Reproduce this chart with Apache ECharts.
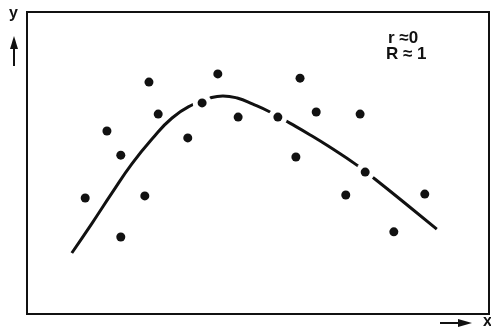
<!DOCTYPE html>
<html>
<head>
<meta charset="utf-8">
<script src="https://cdn.jsdelivr.net/npm/echarts@6/dist/echarts.min.js"></script>
<style>
  html, body { margin: 0; padding: 0; background: #fff; }
  #chart { width: 491px; height: 334px; }
</style>
</head>
<body>
<div id="chart"></div>
<script>
// scatter points (x, y)
const pointsX = [1.26, 1.73, 2.03, 2.03, 2.55, 2.64, 2.84, 3.48, 3.79, 4.13, 4.57, 5.43, 5.82, 5.91, 6.26, 6.90, 7.21, 7.32, 7.94, 8.61];
const pointsY = [3.84, 6.06, 5.26, 2.55, 3.91, 7.68, 6.62, 5.83, 6.99, 7.95, 6.52, 6.52, 5.20, 7.81, 6.69, 3.94, 6.62, 4.70, 2.72, 3.97];
// points lying on the curve (the curve is broken around them)
const onCurve = [8, 11, 17];

// fitted curve
const curveX = [0.97, 1.41, 1.84, 2.27, 2.71, 3.14, 3.57, 3.96, 4.24, 4.55, 4.89, 5.26, 5.69, 6.13, 6.52, 7.14, 7.53, 8.23, 8.87];
const curveY = [2.02, 3.01, 4.01, 4.97, 5.80, 6.49, 6.92, 7.15, 7.22, 7.15, 6.95, 6.69, 6.32, 5.93, 5.56, 4.93, 4.47, 3.61, 2.81];

const points = pointsX.map((x, i) => [x, pointsY[i]]);
const halo = onCurve.map(i => points[i]);
const curve = curveX.map((x, i) => [x, curveY[i]]);

let myChart = echarts.init(document.getElementById('chart'), null, { renderer: 'canvas' });

let option = {
  animation: false,
  grid: {
    left: 27, top: 12, right: 2, bottom: 20,
    show: true,
    borderColor: '#111',
    borderWidth: 2,
    backgroundColor: '#fff'
  },
  xAxis: { type: 'value', min: 0, max: 10, show: false },
  yAxis: { type: 'value', min: 0, max: 10, show: false },
  series: [
    {
      type: 'line',
      data: curve,
      smooth: 0.5,
      symbol: 'none',
      z: 1,
      lineStyle: { color: '#111', width: 3 }
    },
    {
      // white halo that breaks the curve around the dots on it
      type: 'scatter',
      data: halo,
      symbolSize: 19,
      z: 3,
      itemStyle: { color: '#fff', opacity: 1 }
    },
    {
      type: 'scatter',
      data: points,
      symbolSize: 9,
      z: 4,
      itemStyle: { color: '#111', opacity: 1 }
    }
  ],
  graphic: [
    { type: 'text', left: 9, top: 6, style: { text: 'y', font: 'bold 16px "Liberation Sans", Arial', fill: '#111' } },
    { type: 'line', shape: { x1: 14, y1: 66, x2: 14, y2: 44 }, style: { stroke: '#111', lineWidth: 2 } },
    { type: 'polygon', shape: { points: [[14, 36], [10, 49], [18, 49]] }, style: { fill: '#111' } },
    { type: 'line', shape: { x1: 440, y1: 323, x2: 464, y2: 323 }, style: { stroke: '#111', lineWidth: 2 } },
    { type: 'polygon', shape: { points: [[472, 323], [458, 319], [458, 327]] }, style: { fill: '#111' } },
    { type: 'text', left: 483, top: 314, style: { text: 'x', font: 'bold 16px "Liberation Sans", Arial', fill: '#111' } },
    { type: 'text', left: 388, top: 30, style: { text: 'r ≈0', font: 'bold 17px "Liberation Sans", Arial', fill: '#111' } },
    { type: 'text', left: 386, top: 46, style: { text: 'R ≈ 1', font: 'bold 17px "Liberation Sans", Arial', fill: '#111' } }
  ]
};

myChart.setOption(option, true);
window.addEventListener('resize', myChart.resize);
</script>
</body>
</html>
